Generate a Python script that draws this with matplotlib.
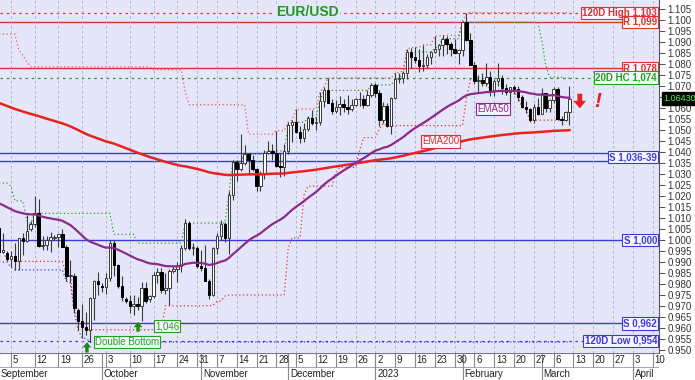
import numpy as np
import pandas as pd
import matplotlib.pyplot as plt
import matplotlib.transforms as mtransforms

plt.rcParams['font.family'] = ['Liberation Sans', 'DejaVu Sans']

# daily EUR/USD bars; the feed still has small sunday sessions up to late october
dates = pd.bdate_range('2022-09-01', '2023-03-10').union(
    pd.date_range('2022-09-04', '2022-10-23', freq='W-SUN'))

opens = [1.0054, 0.9945, 0.9940, 0.9915, 0.9928, 0.9903, 1.0010, 0.9997, 1.0050, 1.0075,
         1.0121, 0.9973, 0.9977, 0.9998, 1.0010, 1.0012, 1.0026, 0.9970, 0.9837, 0.9837,
         0.9680, 0.9630, 0.9606, 0.9592, 0.9736, 0.9815, 0.9790, 0.9785, 0.9827, 0.9986,
         0.9885, 0.9793, 0.9730, 0.9725, 0.9701, 0.9707, 0.9702, 0.9780, 0.9730, 0.9745,
         0.9839, 0.9856, 0.9774, 0.9780, 0.9860, 0.9870, 0.9880, 0.9965, 1.0077, 0.9965,
         0.9965, 0.9883, 0.9875, 0.9815, 0.9750, 0.9962, 1.0020, 1.0075, 1.0010, 1.0205,
         1.0355, 1.0325, 1.0350, 1.0390, 1.0362, 1.0325, 1.0245, 1.0305, 1.0395, 1.0405,
         1.0395, 1.0338, 1.0330, 1.0405, 1.0525, 1.0535, 1.0490, 1.0465, 1.0505, 1.0555,
         1.0530, 1.0535, 1.0630, 1.0680, 1.0625, 1.0585, 1.0605, 1.0620, 1.0605, 1.0595,
         1.0615, 1.0640, 1.0640, 1.0615, 1.0660, 1.0705, 1.0670, 1.0545, 1.0610, 1.0520,
         1.0645, 1.0730, 1.0735, 1.0760, 1.0855, 1.0830, 1.0820, 1.0790, 1.0795, 1.0830,
         1.0855, 1.0870, 1.0885, 1.0915, 1.0890, 1.0870, 1.0850, 1.0863, 1.0990, 1.0910,
         1.0795, 1.0725, 1.0727, 1.0715, 1.0740, 1.0680, 1.0725, 1.0735, 1.0690, 1.0675,
         1.0695, 1.0685, 1.0650, 1.0605, 1.0595, 1.0545, 1.0605, 1.0575, 1.0670, 1.0600,
         1.0635, 1.0685, 1.0550, 1.0545, 1.0580]
highs = [1.0056, 1.0033, 0.9950, 0.9950, 0.9988, 1.0011, 1.0030, 1.0114, 1.0085, 1.0198,
         1.0187, 1.0020, 1.0017, 1.0036, 1.0025, 1.0029, 1.0050, 0.9976, 0.9907, 0.9851,
         0.9690, 0.9708, 0.9671, 0.9740, 0.9816, 0.9853, 0.9805, 0.9850, 0.9999, 0.9999,
         0.9892, 0.9835, 0.9740, 0.9748, 0.9752, 0.9741, 0.9809, 0.9807, 0.9750, 0.9853,
         0.9875, 0.9874, 0.9849, 0.9870, 0.9880, 0.9900, 0.9976, 1.0094, 1.0088, 0.9986,
         0.9975, 0.9954, 0.9977, 0.9825, 0.9966, 1.0033, 1.0093, 1.0081, 1.0222, 1.0365,
         1.0365, 1.0481, 1.0433, 1.0395, 1.0387, 1.0328, 1.0315, 1.0409, 1.0448, 1.0435,
         1.0497, 1.0395, 1.0438, 1.0537, 1.0545, 1.0595, 1.0519, 1.0530, 1.0565, 1.0590,
         1.0560, 1.0673, 1.0695, 1.0736, 1.0639, 1.0638, 1.0656, 1.0640, 1.0660, 1.0640,
         1.0647, 1.0673, 1.0660, 1.0680, 1.0713, 1.0713, 1.0683, 1.0628, 1.0625, 1.0648,
         1.0760, 1.0757, 1.0770, 1.0868, 1.0874, 1.0875, 1.0867, 1.0887, 1.0846, 1.0860,
         1.0927, 1.0890, 1.0930, 1.0929, 1.0898, 1.0913, 1.0870, 1.0995, 1.1033, 1.0942,
         1.0807, 1.0748, 1.0760, 1.0805, 1.0767, 1.0730, 1.0805, 1.0750, 1.0710, 1.0695,
         1.0705, 1.0700, 1.0660, 1.0630, 1.0600, 1.0620, 1.0645, 1.0691, 1.0670, 1.0640,
         1.0695, 1.0695, 1.0565, 1.0587, 1.0700]
lows = [0.9910, 0.9942, 0.9905, 0.9876, 0.9864, 0.9864, 0.9930, 0.9990, 1.0040, 1.0060,
        0.9966, 0.9955, 0.9955, 0.9945, 1.0000, 0.9966, 0.9966, 0.9812, 0.9807, 0.9670,
        0.9590, 0.9553, 0.9570, 0.9536, 0.9637, 0.9749, 0.9765, 0.9755, 0.9814, 0.9836,
        0.9780, 0.9725, 0.9715, 0.9670, 0.9660, 0.9681, 0.9632, 0.9713, 0.9720, 0.9735,
        0.9806, 0.9760, 0.9753, 0.9705, 0.9850, 0.9808, 0.9855, 0.9955, 0.9955, 0.9930,
        0.9871, 0.9860, 0.9815, 0.9730, 0.9746, 0.9935, 0.9998, 0.9992, 0.9935, 1.0180,
        1.0270, 1.0313, 1.0340, 1.0300, 1.0313, 1.0225, 1.0223, 1.0279, 1.0389, 1.0365,
        1.0332, 1.0288, 1.0290, 1.0392, 1.0446, 1.0485, 1.0442, 1.0445, 1.0494, 1.0525,
        1.0502, 1.0524, 1.0605, 1.0624, 1.0572, 1.0576, 1.0570, 1.0580, 1.0573, 1.0587,
        1.0609, 1.0610, 1.0600, 1.0608, 1.0652, 1.0650, 1.0520, 1.0530, 1.0512, 1.0483,
        1.0640, 1.0713, 1.0715, 1.0733, 1.0780, 1.0806, 1.0765, 1.0766, 1.0780, 1.0802,
        1.0850, 1.0835, 1.0835, 1.0845, 1.0835, 1.0845, 1.0800, 1.0835, 1.0906, 1.0794,
        1.0710, 1.0669, 1.0700, 1.0700, 1.0656, 1.0655, 1.0700, 1.0663, 1.0660, 1.0613,
        1.0665, 1.0630, 1.0600, 1.0577, 1.0535, 1.0533, 1.0570, 1.0575, 1.0580, 1.0580,
        1.0625, 1.0545, 1.0524, 1.0540, 1.0525]
closes = [0.9945, 0.9954, 0.9915, 0.9928, 0.9903, 1.0010, 0.9997, 1.0041, 1.0075, 1.0121,
          0.9973, 0.9977, 0.9998, 1.0015, 1.0012, 1.0026, 0.9970, 0.9837, 0.9837, 0.9690,
          0.9630, 0.9606, 0.9592, 0.9736, 0.9815, 0.9802, 0.9785, 0.9827, 0.9986, 0.9885,
          0.9793, 0.9740, 0.9725, 0.9701, 0.9707, 0.9702, 0.9780, 0.9722, 0.9745, 0.9839,
          0.9856, 0.9774, 0.9780, 0.9859, 0.9870, 0.9880, 0.9965, 1.0077, 0.9965, 0.9965,
          0.9883, 0.9875, 0.9815, 0.9750, 0.9962, 1.0020, 1.0075, 1.0010, 1.0205, 1.0355,
          1.0325, 1.0350, 1.0390, 1.0362, 1.0325, 1.0245, 1.0305, 1.0395, 1.0405, 1.0395,
          1.0338, 1.0330, 1.0405, 1.0525, 1.0535, 1.0490, 1.0465, 1.0505, 1.0555, 1.0530,
          1.0535, 1.0630, 1.0680, 1.0625, 1.0585, 1.0605, 1.0620, 1.0605, 1.0595, 1.0615,
          1.0640, 1.0640, 1.0615, 1.0660, 1.0705, 1.0670, 1.0545, 1.0610, 1.0520, 1.0645,
          1.0730, 1.0735, 1.0760, 1.0855, 1.0830, 1.0820, 1.0790, 1.0795, 1.0830, 1.0855,
          1.0870, 1.0885, 1.0915, 1.0890, 1.0870, 1.0850, 1.0863, 1.0990, 1.0910, 1.0795,
          1.0725, 1.0727, 1.0715, 1.0740, 1.0680, 1.0725, 1.0735, 1.0690, 1.0675, 1.0695,
          1.0685, 1.0650, 1.0605, 1.0595, 1.0545, 1.0605, 1.0575, 1.0670, 1.0600, 1.0635,
          1.0685, 1.0550, 1.0545, 1.0580, 1.0643]

# closes of the bars before september (feed the 20 day channel)
pre_closes = [1.0259, 1.0245, 1.0160, 1.0170, 1.0178, 1.0088, 1.0038, 1.0030, 0.9943,
              0.9969, 0.9967, 0.9972, 0.9965, 0.9955, 1.0003, 1.0016, 1.0054]
# 120 day high still coming from spring highs: (last bar it holds, level)
pre_high120 = [(4, 1.0936), (5, 1.0864), (6, 1.0840), (7, 1.0810), (38, 1.0787),
               (46, 1.0774), (47, 1.0673), (62, 1.0615)]
pre_low120 = 0.9900
ema50_start = 1.0167
ema200_start = 1.0623

# horizontal levels
res_levels = [1.0992, 1.0780]
sup_levels = [1.0000, 0.9621]
sup_zone = [1.0360, 1.0394]
high120_level = 1.1033
low120_level = 0.9541
hc20_level = 1.0735

BG = '#E6E6FA'
RED = '#E03030'
BLUE = '#3A3AE0'
GREEN = '#22A022'
PURPLE = '#8A2A8A'

n = len(closes)
x = np.arange(n)
o = np.array(opens); h = np.array(highs); l = np.array(lows); c = np.array(closes)

# indicators
def ema(vals, span, start):
    a = 2.0 / (span + 1)
    out = [start]
    for v in vals[1:]:
        out.append(out[-1] + a * (v - out[-1]))
    return np.array(out)

ema50 = ema(c, 50, ema50_start)
ema200 = ema(c, 200, ema200_start)

allc = pd.Series(pre_closes + closes)
hc20 = allc.rolling(20, min_periods=1).max().to_numpy()[len(pre_closes):]
lc20 = allc.rolling(20, min_periods=1).min().to_numpy()[len(pre_closes):]

hi120 = pd.Series(highs).rolling(126, min_periods=1).max().to_numpy()
for i in range(n):
    for last, lev in pre_high120:
        if i <= last:
            hi120[i] = max(hi120[i], lev)
            break
lo120 = np.minimum(pd.Series(lows).rolling(126, min_periods=1).min().to_numpy(), pre_low120)

# axis calendar, running on past the last bar
axis_dates = dates.append(pd.bdate_range('2023-03-13', '2023-04-14'))
mondays = [i for i, d in enumerate(axis_dates) if d.weekday() == 0]
month_starts = [i for i, d in enumerate(axis_dates) if i == 0 or d.month != axis_dates[i - 1].month]

xlim = (0.25, 166.6)
ylim = (0.94864, 1.10909)

fig = plt.figure(figsize=(6.95, 3.8), dpi=100)
ax = fig.add_axes([0, 27 / 380, 659 / 695, 353 / 380])
ax.set_facecolor(BG)
ax.set_xlim(*xlim)
ax.set_ylim(*ylim)

# weekly grid
ax.set_xticks(mondays)
ax.tick_params(axis='x', length=0, labelbottom=False)
ax.grid(axis='x', color='#A8A8BC', ls=(0, (3, 3)), lw=0.6)

# levels
for v in res_levels:
    ax.axhline(v, color=RED, lw=1.0, zorder=1)
for v in sup_levels + sup_zone:
    ax.axhline(v, color=BLUE, lw=1.0, zorder=1)
ax.axhline(high120_level, color=RED, lw=0.9, ls=(0, (2, 3)), zorder=1)
ax.axhline(low120_level, color=BLUE, lw=0.9, ls=(0, (2, 3)), zorder=1)
ax.axhline(hc20_level, color=GREEN, lw=0.9, ls=(0, (2, 3)), zorder=1)

# channels
ax.plot(x, hc20, color=GREEN, lw=0.9, ls=(0, (1, 2)), zorder=1.5)
ax.plot(x, lc20, color=RED, lw=0.9, ls=(0, (1, 2)), zorder=1.5)
ax.plot(x, hi120, color='#E05A5A', lw=0.9, ls=(0, (1, 2)), zorder=1.5)
ax.plot(x, lo120, color=BLUE, lw=0.9, ls=(0, (1, 2)), zorder=1.5)

# candles
up = c >= o
ax.vlines(x, l, h, color='#3A3A3A', lw=0.8, zorder=3)
body_lo = np.minimum(o, c)
body_h = np.maximum(np.abs(c - o), 0.0003)
ax.bar(x[up], body_h[up], bottom=body_lo[up], width=0.62, color='white',
       edgecolor='#3A3A3A', lw=0.7, zorder=3.5)
ax.bar(x[~up], body_h[~up], bottom=body_lo[~up], width=0.62, color='black',
       edgecolor='black', lw=0.7, zorder=3.5)

# moving averages
ax.plot(x, ema200, color='#E8231C', lw=1.8, zorder=4)
ax.plot(x, ema50, color=PURPLE, lw=1.6, zorder=4)

# right axis; the label under the last price marker is hidden like in the platform
ax.yaxis.tick_right()
ax.set_yticks(np.arange(0.950, 1.1051, 0.005))
ax.yaxis.set_major_formatter(plt.FuncFormatter(
    lambda v, pos: '' if abs(v - c[-1]) < 0.0025 else f'{v:.3f}'))
ax.tick_params(axis='y', labelsize=7, length=4, width=0.6, colors='#333333', pad=2)
for s in ['left', 'top', 'bottom']:
    ax.spines[s].set_visible(False)
ax.spines['right'].set_color('#555555')
ax.spines['right'].set_linewidth(0.8)

tr = mtransforms.blended_transform_factory(ax.transAxes, ax.transData)

def tag(y, text, color):
    ax.text(0.997, y, text, transform=tr, ha='right', va='center', fontsize=7,
            fontweight='bold', color=color, zorder=6,
            bbox=dict(boxstyle='square,pad=0.12', fc='#F6F6FF', ec=color, lw=0.8))

tag(high120_level, '120D High 1,103', RED)
tag(res_levels[0], 'R 1,099', RED)
tag(res_levels[1], 'R 1,078', RED)
tag(hc20_level + 0.0003, '20D HC 1,074', GREEN)
tag(sum(sup_zone) / 2, 'S 1,036-39', BLUE)
tag(sup_levels[0], 'S 1,000', BLUE)
tag(sup_levels[1], 'S 0,962', BLUE)
tag(low120_level, '120D Low 0,954', BLUE)

# last price marker
ax.text(1.007, c[-1], f'{c[-1]:.5f}', transform=tr, ha='left', va='center',
        fontsize=6.5, color='#3CFF3C', clip_on=False, zorder=7,
        bbox=dict(boxstyle='square,pad=0.2', fc='black', ec='black'))

# annotations
ax.text(0.466, 0.966, 'EUR/USD', transform=ax.transAxes, ha='center', va='center',
        fontsize=10, fontweight='bold', color='#1E9A1E', zorder=6,
        bbox=dict(boxstyle='square,pad=0.1', fc=BG, ec='none'))

def box(xp, yp, text, color):
    ax.text(xp, yp, text, ha='center', va='center', fontsize=7, color=color, zorder=6,
            bbox=dict(boxstyle='square,pad=0.12', fc='#F6F6FF', ec=color, lw=0.8))

box(124.7, 1.0596, 'EMA50', PURPLE)
box(111.4, 1.0448, 'EMA200', RED)
box(32.3, 0.9536, 'Double Bottom', GREEN)
box(42.4, 0.9609, '1,046', GREEN)

def arrow(x0, y_from, y_to, color, scale):
    ax.annotate('', xy=(x0, y_to), xytext=(x0, y_from), zorder=6,
                arrowprops=dict(arrowstyle='simple,head_width=0.9,head_length=0.55,tail_width=0.35',
                                color=color, lw=0, mutation_scale=scale,
                                shrinkA=0, shrinkB=0))

arrow(22.2, 0.9488, 0.9536, '#1E8A1E', 7)
arrow(35.1, 0.9583, 0.9628, '#1E8A1E', 7)
arrow(146.6, 1.0665, 1.0598, '#E82020', 10)
ax.text(151.2, 1.0631, '!', ha='center', va='center', fontsize=15, fontweight='bold',
        fontstyle='italic', color='#E82020', zorder=6)

# date axis
axd = fig.add_axes([0, 0, 659 / 695, 27 / 380])
axd.set_xlim(*xlim)
axd.set_ylim(0, 2)
axd.axis('off')
axd.axhline(2, color='#777777', lw=0.8)
axd.axhline(1, color='#999999', lw=0.6)
axd.vlines(mondays, 1, 2, color='#888888', lw=0.8)
axd.vlines(month_starts, 0, 2, color='#888888', lw=0.8)
for i in mondays:
    axd.text(i + 0.45, 1.48, str(axis_dates[i].day), ha='left', va='center',
             fontsize=7, color='#222222')
for i in month_starts:
    d = axis_dates[i]
    name = str(d.year) if d.month == 1 else d.strftime('%B')
    axd.text(i + 0.45, 0.45, name, ha='left', va='center', fontsize=7, color='#222222')

fig.savefig('out.png', dpi=100)
